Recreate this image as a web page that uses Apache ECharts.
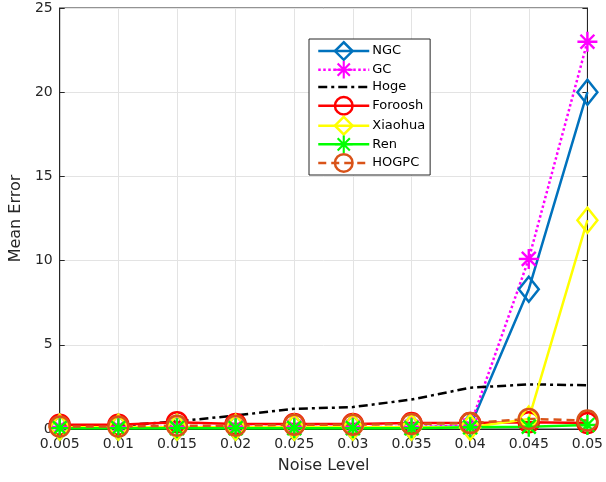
<!DOCTYPE html>
<html>
<head>
<meta charset="utf-8">
<script src="https://cdn.jsdelivr.net/npm/echarts@6/dist/echarts.min.js"></script>
<style>
html, body { margin: 0; padding: 0; background: #fff; }
#chart { width: 606px; height: 482px; }
</style>
</head>
<body>
<div id="chart"></div>
<script>
// noise levels
const noiseLevels = ['0.005', '0.01', '0.015', '0.02', '0.025', '0.03', '0.035', '0.04', '0.045', '0.05']
const yTicks = [0, 5, 10, 15, 20, 25]

// mean error for each method
const ngcData      = [0.1, 0.1, 0.1, 0.1, 0.1, 0.1, 0.1, 0.15, 8.3, 20]
const gcData       = [0.12, 0.12, 0.12, 0.12, 0.12, 0.12, 0.12, 0.2, 10.1, 23]
const hogeData     = [0.1, 0.2, 0.45, 0.8, 1.2, 1.3, 1.75, 2.45, 2.65, 2.6]
const forooshData  = [0.25, 0.25, 0.4, 0.3, 0.3, 0.3, 0.35, 0.35, 0.4, 0.35]
const xiaohuaData  = [0.1, 0.1, 0.1, 0.1, 0.1, 0.1, 0.1, 0.1, 0.6, 12.4]
const renData      = [0.05, 0.05, 0.05, 0.05, 0.05, 0.05, 0.05, 0.1, 0.14, 0.24]
const hogpcData    = [0.15, 0.15, 0.2, 0.2, 0.25, 0.25, 0.3, 0.35, 0.6, 0.5]

const txt = '#262626'
const font = 'DejaVu Sans'
// asterisk marker (plus + cross)
const asterisk = 'path://M0 8.8L20 8.8L20 11.2L0 11.2Z M8.8 0L11.2 0L11.2 20L8.8 20Z M2.2 3.9L3.9 2.2L17.8 16.1L16.1 17.8Z M16.1 2.2L17.8 3.9L3.9 17.8L2.2 16.1Z'

const legendItems = []

function mk(name, data, color, opts) {
    const s = {
        name: name,
        type: 'line',
        data: data,
        symbol: 'none',
        lineStyle: { color: color, width: 2.5, type: opts.dash || 'solid' },
        // no marker: keep legend symbol invisible
        itemStyle: { color: 'rgba(0,0,0,0)', borderWidth: 0 },
        animation: false
    }
    if (opts.symbol === 'diamond') {
        s.symbol = 'diamond'
        s.symbolSize = [20, 25]
        s.itemStyle = { color: 'rgba(0,0,0,0)', borderColor: color, borderWidth: 2.5 }
    } else if (opts.symbol === 'circle') {
        s.symbol = 'circle'
        s.symbolSize = 20
        s.itemStyle = { color: 'rgba(0,0,0,0)', borderColor: color, borderWidth: 2.5 }
    } else if (opts.symbol === 'star') {
        s.symbol = asterisk
        s.symbolSize = 20
        s.itemStyle = { color: color }
    }
    s.showAllSymbol = true
    legendItems.push({
        name: name,
        itemStyle: s.itemStyle,
        lineStyle: { color: color, width: 2.5, type: opts.dash || 'solid' }
    })
    return s
}

const series = [
    mk('NGC', ngcData, '#0072BD', { symbol: 'diamond' }),
    mk('GC', gcData, '#FF00FF', { symbol: 'star', dash: [2.5, 2.5] }),
    mk('Hoge', hogeData, '#000000', { dash: [9, 4, 3, 4] }),
    mk('Foroosh', forooshData, '#FF0000', { symbol: 'circle' }),
    mk('Xiaohua', xiaohuaData, '#FFFF00', { symbol: 'diamond' }),
    mk('Ren', renData, '#00FF00', { symbol: 'star' }),
    mk('HOGPC', hogpcData, '#D95319', { symbol: 'circle', dash: [8, 5] })
]

const chart = echarts.init(document.getElementById('chart'))
chart.setOption({
    backgroundColor: '#fff',
    textStyle: { fontFamily: font },
    grid: {
        left: 59, right: 10, top: 8, bottom: 53,
        show: true, borderColor: txt, borderWidth: 1, backgroundColor: 'transparent'
    },
    legend: {
        orient: 'vertical',
        left: 309, top: 39,
        padding: [2, 5, 2, 8],
        itemWidth: 51, itemHeight: 22, itemGap: -0.2,
        backgroundColor: '#fff',
        borderColor: txt, borderWidth: 1,
        textStyle: { fontFamily: font, fontSize: 13, color: '#000', padding: [0, 0, 0, -2] },
        data: legendItems
    },
    xAxis: [{
        type: 'category',
        data: noiseLevels,
        boundaryGap: false,
        name: 'Noise Level',
        nameLocation: 'middle',
        nameGap: 29,
        nameTextStyle: { fontFamily: font, fontSize: 16, color: txt },
        axisLine: { lineStyle: { color: txt, width: 1 } },
        axisTick: { inside: true, length: 5, alignWithLabel: true, lineStyle: { color: txt } },
        axisLabel: { fontFamily: font, fontSize: 14, color: txt, margin: 8 },
        splitLine: { show: true, lineStyle: { color: '#e3e3e3', width: 1 } }
    }, {
        type: 'category',
        data: noiseLevels,
        boundaryGap: false,
        position: 'top',
        axisLine: { lineStyle: { color: txt, width: 1 } },
        axisTick: { inside: true, length: 5, lineStyle: { color: txt } },
        axisLabel: { show: false },
        splitLine: { show: false }
    }],
    yAxis: [{
        type: 'value',
        min: yTicks[0], max: yTicks[yTicks.length - 1], interval: 5,
        name: 'Mean Error',
        nameLocation: 'middle',
        nameGap: 33,
        nameTextStyle: { fontFamily: font, fontSize: 16, color: txt },
        axisLine: { show: true, lineStyle: { color: txt, width: 1 } },
        axisTick: { show: true, inside: true, length: 5, lineStyle: { color: txt } },
        axisLabel: { fontFamily: font, fontSize: 14, color: txt, margin: 7 },
        splitLine: { show: true, lineStyle: { color: '#e3e3e3', width: 1 } }
    }, {
        type: 'value',
        position: 'right',
        min: yTicks[0], max: yTicks[yTicks.length - 1], interval: 5,
        axisLine: { show: true, lineStyle: { color: txt, width: 1 } },
        axisTick: { show: true, inside: true, length: 5, lineStyle: { color: txt } },
        axisLabel: { show: false },
        splitLine: { show: false }
    }],
    series: series
})
</script>
</body>
</html>
